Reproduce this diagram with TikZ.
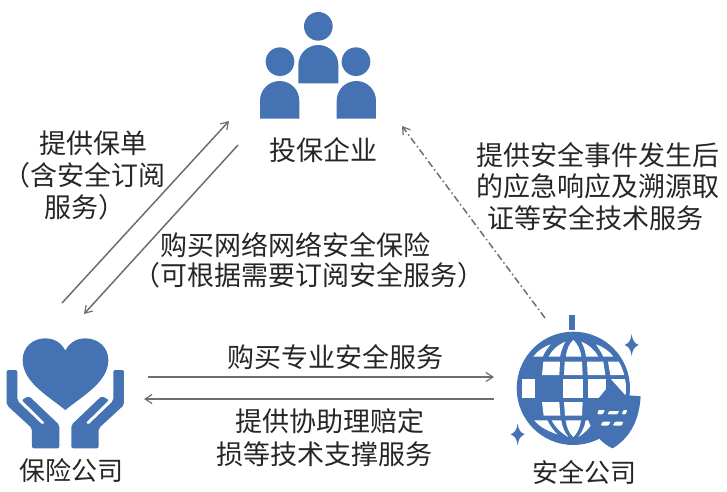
\documentclass[tikz,border=0pt]{standalone}
\usepackage{fontspec}
\setmainfont{Noto Sans CJK SC}
\usetikzlibrary{arrows.meta}
\definecolor{iconblue}{HTML}{4472B2}
\definecolor{linegray}{HTML}{6E6E6E}
\definecolor{inkc}{HTML}{262626}
\tikzset{
  lbl/.style={text=inkc,inner sep=0pt,align=center,font=\fontsize{27}{31.8}\selectfont},
  lblsmall/.style={lbl,font=\fontsize{26}{31}\selectfont},
  conn/.style={draw=linegray,line width=1.5pt,-{Straight Barb[length=7pt,width=9pt,line width=1.2pt]}},
  conndash/.style={conn,dash pattern=on 7pt off 3pt on 1.5pt off 3pt},
  zoomA/.style={shift={(240pt,0pt)},x=0.3333pt,y=-0.3333pt},
  zoomB/.style={shift={(0pt,-330pt)},x=0.3333pt,y=-0.3333pt},
  zoomC/.style={shift={(500pt,-305pt)},x=0.3333pt,y=-0.3333pt},
}
\newcommand{\bodyshape}[1]{\fill[iconblue] (#1-59,356) -- (#1-59,302) arc[start angle=180,end angle=360,x radius=59,y radius=59] -- (#1+59,356) -- cycle;}
\begin{document}
\begin{tikzpicture}[x=1pt,y=-1pt]
\useasboundingbox (0,0) rectangle (727,491);
% people icon
\begin{scope}[zoomA]
\fill[iconblue] (235,79) circle[radius=43];
\fill[iconblue] (175,250) -- (175,195) arc[start angle=180,end angle=360,x radius=60,y radius=60] -- (295,250) -- cycle;
\fill[iconblue] (120,185) circle[radius=43];
\fill[iconblue] (348,185) circle[radius=43];
\bodyshape{119}
\bodyshape{349}
\end{scope}
% heart and hands icon
\begin{scope}[zoomB]
\fill[iconblue] (196,240) .. controls (140,195) and (68,155) .. (68,90)
  .. controls (68,50) and (100,25) .. (135,25)
  .. controls (165,25) and (185,40) .. (196,62)
  .. controls (207,40) and (227,25) .. (257,25)
  .. controls (292,25) and (325,50) .. (325,90)
  .. controls (325,155) and (252,195) .. (196,240) -- cycle;
\foreach \s/\o in {1/0,-1/392}{
\fill[iconblue,rounded corners=2pt] ({\o+\s*20},120) -- ({\o+\s*52},120) -- ({\o+\s*52},212) -- ({\o+\s*128},285) -- ({\o+\s*135},279) -- ({\o+\s*65},210) -- ({\o+\s*87},198) -- ({\o+\s*178},285) -- ({\o+\s*178},355) -- ({\o+\s*96},355) -- ({\o+\s*96},295) -- ({\o+\s*20},225) -- cycle;
}
\end{scope}
% globe icon
\begin{scope}[zoomC]
\fill[iconblue] (208,30) rectangle (225,76);
\fill[iconblue] (220,250) circle[radius=170];
\begin{scope}
\clip (220,250) circle[radius=158];
\fill[white] (100,155) .. controls (112,138) and (130,126) .. (152,118) .. controls (142,130) and (134,142) .. (128,155) -- cycle;
\fill[white] (146,155) .. controls (155,136) and (172,120) .. (196,110) .. controls (188,125) and (183,140) .. (180,155) -- cycle;
\fill[white] (198,155) .. controls (200,132) and (208,115) .. (220,105) .. controls (232,115) and (241,132) .. (244,155) -- cycle;
\fill[white] (258,155) .. controls (256,140) and (252,125) .. (244,110) .. controls (268,120) and (285,136) .. (295,155) -- cycle;
\fill[white] (310,155) .. controls (304,142) and (296,130) .. (288,118) .. controls (310,126) and (328,138) .. (340,155) -- cycle;
\fill[white] (130,170) -- (180,170) -- (178,210) -- (126,210) -- cycle;
\fill[white] (194,170) -- (246,170) -- (248,210) -- (192,210) -- cycle;
\fill[white] (261,170) -- (310,170) -- (316,210) -- (263,210) -- cycle;
\fill[white] (324,170) -- (365,170) -- (378,210) -- (331,210) -- cycle;
\fill[white] (65,222) rectangle (106,280);
\fill[white] (190,222) rectangle (248,280);
\fill[white] (263,222) rectangle (318,280);
\fill[white] (333,222) rectangle (382,280);
\fill[white] (126,291) -- (178,291) -- (181,332) -- (131,332) -- cycle;
\fill[white] (192,291) -- (248,291) -- (246,332) -- (195,332) -- cycle;
\fill[white] (103,346) -- (142,346) .. controls (150,362) and (160,376) .. (172,388) .. controls (142,378) and (118,365) .. (103,346) -- cycle;
\fill[white] (155,346) -- (184,346) .. controls (186,365) and (194,382) .. (205,396) .. controls (185,385) and (166,368) .. (155,346) -- cycle;
\fill[white] (197,346) -- (243,346) .. controls (240,368) and (232,385) .. (220,396) .. controls (208,385) and (200,368) .. (197,346) -- cycle;
\fill[white] (257,346) -- (282,346) .. controls (270,368) and (254,385) .. (235,396) .. controls (246,382) and (254,365) .. (257,346) -- cycle;
\end{scope}
% shield
\fill[iconblue] (332,222) -- (375,270) -- (422,274)
  .. controls (418,340) and (395,395) .. (338,430)
  .. controls (308,418) and (278,385) .. (265,345) -- (262,310) -- (300,275) -- (320,250) -- cycle;
\fill[white,rounded corners=1pt] (295,315) -- (315,315) -- (308,328) -- (292,328) -- cycle;
\fill[white,rounded corners=1pt] (328,318) -- (358,318) -- (352,328) -- (322,328) -- cycle;
\fill[white,rounded corners=1pt] (370,315) -- (382,315) -- (377,328) -- (365,328) -- cycle;
\fill[white,rounded corners=1pt] (308,350) -- (332,350) -- (325,362) -- (302,362) -- cycle;
\fill[white,rounded corners=1pt] (345,350) -- (370,350) -- (365,362) -- (338,362) -- cycle;
% sparkles
\foreach \cx/\cy in {395/120,53/388}{
\fill[iconblue] (\cx,\cy-33) .. controls (\cx+3,\cy-12) and (\cx+8,\cy-6) .. (\cx+21,\cy)
 .. controls (\cx+8,\cy+6) and (\cx+3,\cy+12) .. (\cx,\cy+33)
 .. controls (\cx-3,\cy+12) and (\cx-8,\cy+6) .. (\cx-21,\cy)
 .. controls (\cx-8,\cy-6) and (\cx-3,\cy-12) .. (\cx,\cy-33) -- cycle;
}
\end{scope}
% labels
\node[lbl] (qiye) at (323.5,150) {投保企业};
\node[lblsmall] (baoxian) at (71,471) {保险公司};
\node[lblsmall] (anquan) at (584,472) {安全公司};
\node[lbl] (tg1) at (93,143) {提供保单};
\node[lbl] (tg2) at (84,175) {（含安全订阅};
\node[lbl] (tg3) at (85,207) {服务）};
\node[lbl] (gm1) at (295,245) {购买网络网络安全保险};
\node[lbl] (gm2) at (309,275) {（可根据需要订阅安全服务）};
\node[lbl] (yj1) at (597.5,155) {提供安全事件发生后};
\node[lbl] (yj2) at (597.5,186) {的应急响应及溯源取};
\node[lbl] (yj3) at (595,218) {证等安全技术服务};
\node[lbl] (zy) at (335,357) {购买专业安全服务};
\node[lbl] (xz1) at (330,421) {提供协助理赔定};
\node[lbl] (xz2) at (324,454) {损等技术支撑服务};
% connectors
\coordinate (a1) at (62,303); \coordinate (a2) at (229,121);
\coordinate (b1) at (238,145); \coordinate (b2) at (84,314);
\coordinate (c1) at (148,377); \coordinate (c2) at (494,377);
\coordinate (d1) at (494,399); \coordinate (d2) at (144,399);
\coordinate (e1) at (545,318); \coordinate (e2) at (402,126);
\draw[conn] (a1) -- (a2);
\draw[conn] (b1) -- (b2);
\draw[conn] (c1) -- (c2);
\draw[conn] (d1) -- (d2);
\draw[conndash] (e1) -- (e2);
\end{tikzpicture}
\end{document}
